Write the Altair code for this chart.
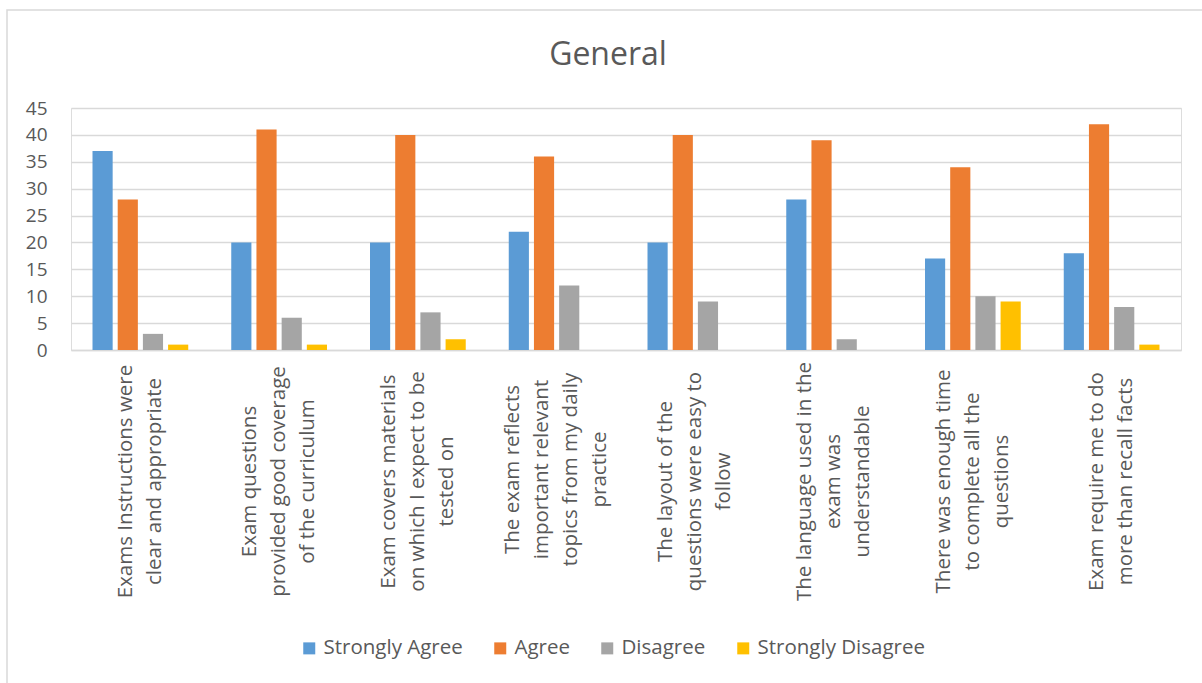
import altair as alt
import pandas as pd

# Survey statements (line breaks marked with "|") and response counts
statements = [
    "Exams Instructions were|clear and appropriate",
    "Exam questions|provided good coverage|of the curriculum",
    "Exam covers materials|on which I expect to be|tested on",
    "The exam reflects|important relevant|topics from my daily|practice",
    "The layout of the|questions were easy to|follow",
    "The language used in the|exam was|understandable",
    "There was enough time|to complete all the|questions",
    "Exam require me to do|more than recall facts",
]
responses = ["Strongly Agree", "Agree", "Disagree", "Strongly Disagree"]
strongly_agree = [37, 20, 20, 22, 20, 28, 17, 18]
agree = [28, 41, 40, 36, 40, 39, 34, 42]
disagree = [3, 6, 7, 12, 9, 2, 10, 8]
strongly_disagree = [1, 1, 2, 0, 0, 0, 9, 1]
palette = ["#5B9BD5", "#ED7D31", "#A5A5A5", "#FFC000"]
y_ticks = [0, 5, 10, 15, 20, 25, 30, 35, 40, 45]
chart_title = "General"

rows = []
for resp, vals in zip(responses, [strongly_agree, agree, disagree, strongly_disagree]):
    for stmt, v in zip(statements, vals):
        rows.append({"statement": stmt, "response": resp, "count": v})
df = pd.DataFrame(rows)

TEXT = "#595959"
GRID = "#D9D9D9"
FONT = "Open Sans"
LINE_H = 29

# centre each wrapped label block on its band (lines stack to the right when rotated)
n_lines = "length(split(datum.label, '|'))"
label_shift = {
    "condition": [
        {"test": f"{n_lines} == 4", "value": -1.5 * LINE_H},
        {"test": f"{n_lines} == 3", "value": -1.0 * LINE_H},
    ],
    "value": -0.5 * LINE_H,
}
# the narrower four-line block sits closer to the axis
label_gap = {"condition": {"test": f"{n_lines} == 4", "value": 119}, "value": 131}

bars = alt.Chart(df).mark_bar().encode(
    x=alt.X(
        "statement:N",
        sort=statements,
        scale=alt.Scale(paddingInner=0.31, paddingOuter=0.155),
        axis=alt.Axis(
            title=None,
            labelExpr="split(datum.label, '|')",
            labelAngle=270,
            labelAlign="center",
            labelBaseline="middle",
            labelPadding=label_gap,
            labelOffset=label_shift,
            labelLineHeight=LINE_H,
            labelFontSize=20.5,
            labelFont=FONT,
            labelColor=TEXT,
            labelOverlap=False,
            labelBound=False,
            labelLimit=0,
            ticks=False,
            domainColor=GRID,
            domainWidth=1.3,
            grid=False,
        ),
    ),
    xOffset=alt.XOffset("response:N", sort=responses, scale=alt.Scale(paddingInner=0.2)),
    y=alt.Y(
        "count:Q",
        scale=alt.Scale(domain=[0, 45], nice=False),
        axis=alt.Axis(
            title=None,
            values=y_ticks,
            domain=False,
            ticks=False,
            labelPadding=24,
            labelFontSize=19,
            labelFont=FONT,
            labelColor=TEXT,
            gridColor=GRID,
            gridWidth=1.3,
        ),
    ),
    color=alt.Color(
        "response:N",
        sort=responses,
        scale=alt.Scale(domain=responses, range=palette),
        legend=alt.Legend(
            title=None,
            orient="none",
            direction="horizontal",
            legendX=228,
            legendY=530,
            symbolType="square",
            symbolSize=144,
            symbolStrokeWidth=0,
            labelFontSize=20.5,
            labelFont=FONT,
            labelColor=TEXT,
            labelOffset=4,
            labelLimit=400,
            columnPadding=27,
            padding=0,
        ),
    ),
)

# light outline around the whole chart
frame = alt.Chart(alt.Data(values=[{}])).mark_rect(
    filled=False, stroke=GRID, strokeWidth=1.5
).encode(
    x=alt.value(-64), x2=alt.value(1200), y=alt.value(-98), y2=alt.value(700)
)

# chart heading
heading = alt.Chart(alt.Data(values=[{"t": chart_title}])).mark_text(
    font=FONT, fontSize=32, color=TEXT, align="center", baseline="alphabetic"
).encode(
    text="t:N", x=alt.value(537), y=alt.value(-43)
)

chart = alt.layer(frame, heading, bars).properties(
    width=1110,
    height=242,
    padding={"left": 71, "top": 108, "right": 21, "bottom": 333},
    autosize=alt.AutoSizeParams(type="none"),
).configure_view(stroke=None).configure(background="white")

chart.save("out.html", embed_options={"renderer": "svg", "actions": False})
